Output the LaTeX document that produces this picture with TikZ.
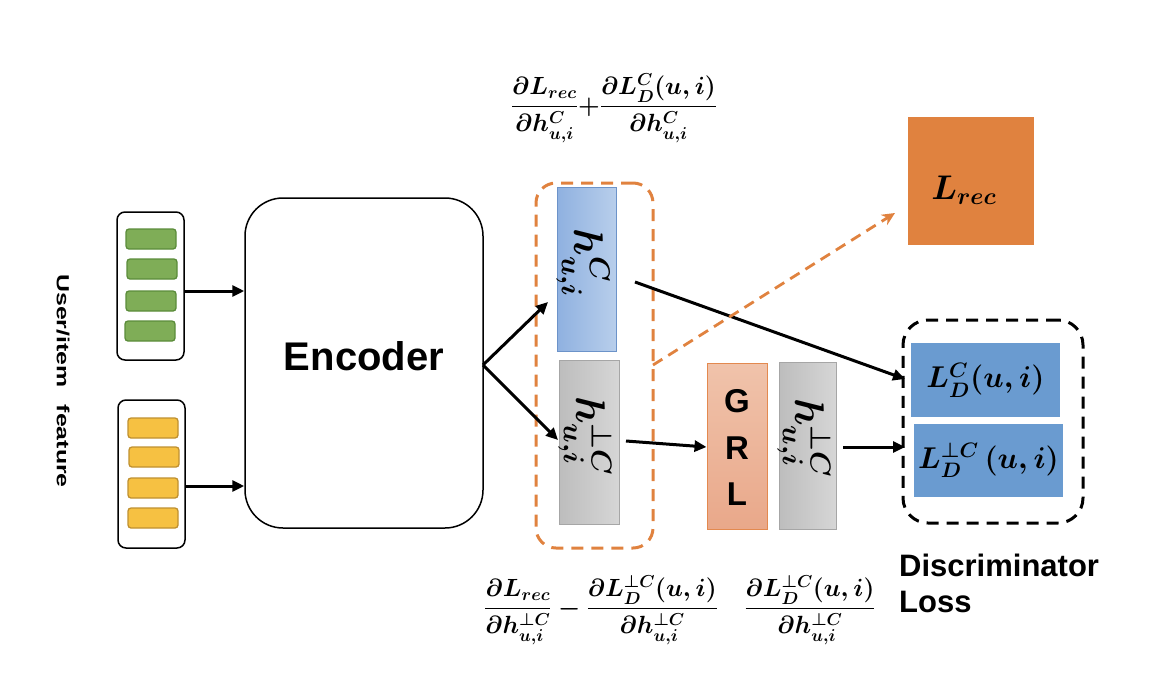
\documentclass[tikz,border=0pt]{standalone}
\usepackage{fontspec}
\usepackage{amsmath,bm}
\newfontfamily\arialf{Liberation Sans}
\usetikzlibrary{arrows.meta}
\definecolor{grnF}{HTML}{7FAD57}
\definecolor{grnD}{HTML}{5B8C3A}
\definecolor{ylwF}{HTML}{F6C142}
\definecolor{ylwD}{HTML}{BF9030}
\definecolor{bluL}{HTML}{8FB1E0}
\definecolor{bluR}{HTML}{B8CEEB}
\definecolor{bluD}{HTML}{6C93C9}
\definecolor{gryL}{HTML}{BDBDBD}
\definecolor{gryR}{HTML}{D6D6D6}
\definecolor{gryD}{HTML}{A6A6A6}
\definecolor{grlT}{HTML}{F0C3AB}
\definecolor{grlB}{HTML}{E9A88A}
\definecolor{grlD}{HTML}{E3894F}
\definecolor{orng}{HTML}{E0823F}
\definecolor{ldbl}{HTML}{6A9BD0}
\newcommand\bmth[1]{\mbox{\boldmath$#1$}}
\newcommand\bmthS[2]{\scalebox{#1}{\mbox{\fontsize{20}{24}\selectfont\boldmath$#2$}}}
\begin{document}
\begin{tikzpicture}[x=1pt,y=-1pt,
  inbox/.style={draw, line width=1.5pt, rounded corners=8pt, inner sep=0pt},
  gbar/.style={draw=grnD, fill=grnF, line width=1.3pt, rounded corners=3pt, minimum width=50pt, minimum height=20pt, inner sep=0pt},
  ybar/.style={draw=ylwD, fill=ylwF, line width=1.3pt, rounded corners=3pt, minimum width=50pt, minimum height=20pt, inner sep=0pt},
  arr/.style={line width=3pt, -{Triangle[length=12pt,width=11pt]}},
  hbox/.style={inner sep=0pt, line width=1pt},
  mfont/.style={font=\fontsize{25}{30}\selectfont},
  sfbold/.style={font=\arialf\bfseries\fontsize{#1}{#1}\selectfont},
  hfont/.style={rotate=-90, inner sep=0pt},
]
\useasboundingbox (0,0) rectangle (1156,694);

% inputs
\node[inbox, minimum width=67pt, minimum height=148pt] (in1) at (150.5,286) {};
\node[gbar] (g1) at (151,239) {};
\node[gbar] (g2) at (152,269) {};
\node[gbar] (g3) at (151,301) {};
\node[gbar] (g4) at (150,331) {};
\node[inbox, minimum width=67pt, minimum height=148pt] (in2) at (151.5,474) {};
\node[ybar] (y1) at (153,428) {};
\node[ybar] (y2) at (154,457) {};
\node[ybar] (y3) at (153,488) {};
\node[ybar] (y4) at (153,518) {};

\node[rotate=-90, sfbold=17.5] (uif) at (63,381) {\scalebox{1.42}[1]{User/item\hspace{0.7em}feature}};

% encoder
\node[draw, line width=1.5pt, rounded corners=38pt, minimum width=238pt, minimum height=330pt, inner sep=0pt] (enc) at (364,363) {};
\node[sfbold=40] (enct) at (364,356) {Encoder};

\coordinate (a1) at (in1.east |- 0,291);
\coordinate (a2) at (in2.east |- 0,486);
\draw[arr] (a1) -- (a1 -| enc.west);
\draw[arr] (a2) -- (a2 -| enc.west);

% group
\node[draw=orng, line width=3pt, dash pattern=on 12pt off 8pt, rounded corners=20pt, minimum width=117pt, minimum height=365pt, inner sep=0pt] (grp) at (594.5,365.5) {};
\node[hbox, draw=bluD, left color=bluL, right color=bluR, minimum width=59pt, minimum height=164pt] (hc) at (586.5,269) {};
\node[hbox, draw=gryD, left color=gryL, right color=gryR, minimum width=60pt, minimum height=164pt] (hp) at (589,442) {};
\node[hfont] (hct) at (583,263) {\bmthS{2}{h^{C}_{u,i}}};
\node[hfont] (hpt) at (585,436) {\bmthS{2}{h^{\perp C}_{u,i}}};

\coordinate (eo) at (483,365);
\coordinate (ho1) at (548,302);
\coordinate (ho2) at (558,440);
\draw[arr] (eo) -- (ho1);
\draw[arr] (eo) -- (ho2);

% GRL and second h
\node[hbox, draw=grlD, top color=grlT, bottom color=grlB, minimum width=60pt, minimum height=166pt] (grl) at (737,446) {};
\node[sfbold=33] (gG) at (737,401) {G};
\node[sfbold=33] (gR) at (737,448) {R};
\node[sfbold=33] (gL) at (737,494) {L};
\node[hbox, draw=gryD, left color=gryL, right color=gryR, minimum width=57pt, minimum height=167pt] (hp2) at (807.5,445.5) {};
\node[hfont] (hp2t) at (804,438) {\bmthS{2}{h^{\perp C}_{u,i}}};

% Lrec
\node[fill=orng, minimum width=126pt, minimum height=128pt, inner sep=0pt] (lrec) at (971,181) {};
\node[inner sep=0pt] (lrect) at (964,190) {\bmthS{1.65}{L_{rec}}};

% discriminator
\node[draw, line width=3pt, dash pattern=on 12pt off 8pt, rounded corners=25pt, minimum width=180pt, minimum height=203pt, inner sep=0pt] (disc) at (993,421.5) {};
\node[fill=ldbl, minimum width=149pt, minimum height=74pt, inner sep=0pt] (ldc) at (985.5,380) {\bmthS{1.45}{L^{C}_{D}(u,i)}};
\node[fill=ldbl, minimum width=149pt, minimum height=73pt, inner sep=0pt] (ldp) at (988.5,460.5) {\bmthS{1.45}{L^{\perp C}_{D}\,(u,i)}};
\node[font=\arialf\bfseries\fontsize{31}{36}\selectfont, align=left, anchor=north west, inner sep=0pt] (dl) at (899,554) {Discriminator\\Loss};

% connectors
\coordinate (s1) at (626,441);
\coordinate (t1) at (grl.west |- 0,447);
\draw[arr] (s1) -- (t1);
\coordinate (s2) at (843,447);
\coordinate (t2) at (905,447);
\draw[arr] (s2) -- (t2);
\coordinate (s3) at (635,282);
\coordinate (t3) at (905,379);
\draw[arr] (s3) -- (t3);
\coordinate (s4) at (653,365);
\coordinate (t4) at (895,213);
\draw[orng, line width=2.8pt, dash pattern=on 11pt off 7pt, -{Stealth[length=13pt,width=12pt]}] (s4) -- (t4);

% formulas
\node[mfont] (f1) at (614,108) {\bmth{\displaystyle \frac{\partial L_{rec}}{\partial h^{C}_{u,i}}{+}\frac{\partial L^{C}_{D}(u,i)}{\partial h^{C}_{u,i}}}};
\node[mfont] (f2) at (601,610) {\bmth{\displaystyle \frac{\partial L_{rec}}{\partial h^{\perp C}_{u,i}}-\frac{\partial L^{\perp C}_{D}(u,i)}{\partial h^{\perp C}_{u,i}}}};
\node[mfont] (f3) at (810,610) {\bmth{\displaystyle \frac{\partial L^{\perp C}_{D}(u,i)}{\partial h^{\perp C}_{u,i}}}};
\end{tikzpicture}
\end{document}
